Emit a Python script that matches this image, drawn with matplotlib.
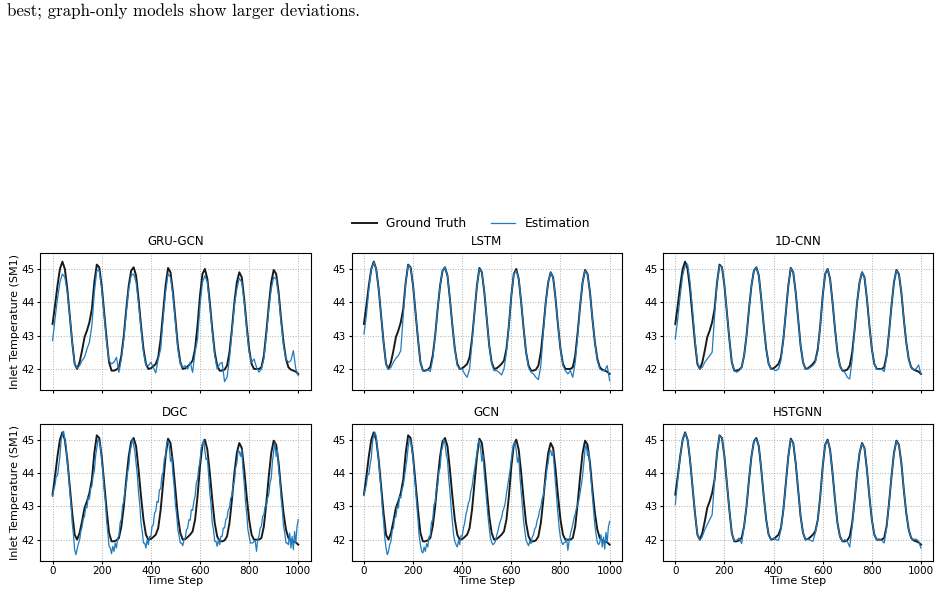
import numpy as np
import matplotlib.pyplot as plt

# time axes
t10 = list(range(0, 1001, 10))
t5 = list(range(0, 1001, 5))

ground_truth = [
    43.35, 43.90, 44.50, 45.00, 45.22, 45.00, 44.40, 43.60, 42.80, 42.15,
    42.00, 42.20, 42.55, 42.95, 43.15, 43.40, 43.80, 44.60, 45.13, 45.05,
    44.50, 43.70, 42.90, 42.20, 41.95, 41.95, 41.98, 42.05, 42.40, 43.00,
    43.80, 44.50, 44.95, 45.05, 44.80, 44.10, 43.30, 42.60, 42.15, 42.00,
    42.02, 42.08, 42.15, 42.35, 42.90, 43.70, 44.50, 45.03, 44.90, 44.30,
    43.50, 42.70, 42.20, 42.00, 42.02, 42.08, 42.15, 42.25, 42.60, 43.30,
    44.20, 44.85, 45.00, 44.70, 44.00, 43.20, 42.50, 42.10, 41.95, 41.95,
    41.98, 42.10, 42.50, 43.20, 44.00, 44.60, 44.90, 44.75, 44.10, 43.30,
    42.60, 42.15, 42.00, 42.00, 42.00, 42.05, 42.40, 43.10, 43.90, 44.60,
    44.97, 44.85, 44.30, 43.50, 42.80, 42.30, 42.05, 41.98, 41.95, 41.92,
    41.85,
]

gru_gcn = [
    42.85, 43.50, 44.10, 44.60, 44.85, 44.75, 44.30, 43.60, 42.80, 42.15,
    42.02, 42.10, 42.25, 42.35, 42.60, 42.80, 43.30, 44.30, 44.95, 44.95,
    44.40, 43.60, 42.80, 42.25, 42.15, 42.20, 42.35, 41.90, 42.30, 42.90,
    43.70, 44.40, 44.80, 44.85, 44.60, 43.95, 43.20, 42.50, 42.10, 42.10,
    42.20, 42.05, 41.88, 42.30, 42.60, 43.50, 44.30, 44.85, 44.75, 44.20,
    43.40, 42.60, 42.15, 42.05, 42.10, 42.00, 42.20, 41.90, 42.50, 42.90,
    43.90, 44.60, 44.80, 44.60, 43.90, 43.10, 42.40, 42.00, 42.15, 42.20,
    41.62, 41.75, 42.30, 43.10, 43.90, 44.40, 44.72, 44.60, 44.00, 43.20,
    42.50, 42.20, 42.30, 42.05, 41.90, 42.00, 42.30, 43.00, 43.80, 44.40,
    44.75, 44.70, 44.20, 43.40, 42.70, 42.30, 42.20, 42.25, 42.55, 42.00,
    41.80,
]

lstm = [
    43.05, 43.60, 44.40, 45.00, 45.20, 45.00, 44.40, 43.60, 42.80, 42.15,
    41.98, 42.05, 42.20, 42.32, 42.40, 42.55, 43.60, 44.60, 45.12, 45.05,
    44.50, 43.70, 42.90, 42.20, 41.95, 41.93, 41.98, 41.92, 42.30, 43.00,
    43.80, 44.50, 44.95, 45.05, 44.80, 44.10, 43.30, 42.60, 42.10, 42.00,
    42.00, 41.85, 41.75, 42.00, 42.80, 43.70, 44.50, 45.00, 44.90, 44.30,
    43.50, 42.70, 42.15, 41.95, 41.95, 41.90, 41.82, 42.00, 42.50, 43.30,
    44.20, 44.85, 44.95, 44.70, 44.00, 43.20, 42.50, 42.05, 41.90, 41.85,
    41.75, 41.68, 42.10, 43.10, 44.00, 44.60, 44.90, 44.75, 44.10, 43.30,
    42.60, 42.10, 41.95, 41.85, 41.95, 41.75, 42.20, 43.00, 43.90, 44.60,
    44.95, 44.85, 44.30, 43.50, 42.80, 42.25, 42.00, 41.95, 41.95, 42.10,
    41.65,
]

cnn_1d = [
    42.90, 43.50, 44.20, 44.80, 45.10, 45.15, 44.60, 43.80, 42.90, 42.20,
    42.00, 42.05, 42.20, 42.30, 42.40, 42.50, 43.60, 44.60, 45.10, 45.05,
    44.50, 43.70, 42.90, 42.20, 41.95, 41.90, 41.95, 42.05, 42.40, 43.00,
    43.80, 44.50, 44.95, 45.05, 44.80, 44.10, 43.30, 42.60, 42.15, 42.00,
    41.98, 41.95, 42.00, 42.25, 42.90, 43.70, 44.50, 45.02, 44.90, 44.30,
    43.50, 42.70, 42.20, 42.00, 42.00, 42.05, 42.10, 42.20, 42.55, 43.30,
    44.20, 44.85, 45.00, 44.70, 44.00, 43.20, 42.50, 42.10, 41.95, 41.90,
    41.75, 41.70, 42.30, 43.20, 44.00, 44.60, 44.90, 44.75, 44.10, 43.30,
    42.60, 42.15, 42.00, 41.98, 42.00, 41.92, 42.35, 43.10, 43.90, 44.60,
    44.95, 44.85, 44.30, 43.50, 42.80, 42.30, 42.05, 41.98, 42.00, 42.12,
    41.85,
]

hstgnn = [
    43.05, 43.80, 44.50, 45.00, 45.20, 45.00, 44.40, 43.60, 42.80, 42.15,
    41.98, 42.10, 42.30, 42.45, 42.60, 42.75, 43.80, 44.60, 45.12, 45.05,
    44.50, 43.70, 42.90, 42.20, 41.97, 41.98, 42.05, 41.88, 42.40, 43.00,
    43.80, 44.50, 44.95, 45.03, 44.80, 44.10, 43.30, 42.60, 42.15, 42.00,
    42.05, 42.00, 41.98, 42.30, 42.90, 43.70, 44.50, 45.00, 44.90, 44.30,
    43.50, 42.70, 42.20, 42.00, 42.02, 41.98, 41.95, 42.20, 42.60, 43.30,
    44.20, 44.85, 44.98, 44.70, 44.00, 43.20, 42.50, 42.08, 41.95, 42.00,
    41.95, 41.78, 42.40, 43.20, 44.00, 44.60, 44.88, 44.75, 44.10, 43.30,
    42.60, 42.15, 42.00, 42.02, 41.98, 41.90, 42.35, 43.10, 43.90, 44.60,
    44.95, 44.85, 44.30, 43.50, 42.80, 42.30, 42.05, 42.00, 42.02, 41.95,
    41.75,
]

dgc = [
    43.30, 43.50, 43.65, 43.90, 43.92, 44.20, 44.50, 45.00, 45.15, 45.25,
    45.00, 44.80, 44.30, 44.00, 43.45, 43.05, 42.50, 42.15, 41.70, 41.55,
    41.72, 41.88, 41.98, 42.25, 42.38, 42.62, 42.70, 42.98, 42.95, 43.28,
    43.22, 43.55, 43.60, 43.92, 44.05, 44.50, 44.75, 45.00, 44.95, 44.80,
    44.35, 44.05, 43.50, 43.15, 42.55, 42.20, 41.80, 41.75, 41.58, 41.80,
    41.65, 41.90, 41.75, 42.05, 42.12, 42.50, 42.62, 43.02, 43.15, 43.52,
    43.62, 44.02, 44.18, 44.62, 44.80, 45.02, 44.85, 44.65, 44.28, 43.95,
    43.40, 43.05, 42.50, 42.25, 41.90, 41.90, 41.75, 42.00, 41.85, 42.10,
    42.08, 42.40, 42.45, 42.80, 42.85, 43.15, 43.12, 43.50, 43.52, 43.92,
    44.02, 44.42, 44.52, 44.95, 44.95, 44.80, 44.35, 44.50, 43.95, 43.60,
    43.05, 42.75, 42.30, 42.10, 41.90, 41.90, 41.82, 42.00, 42.05, 42.30,
    42.35, 42.60, 42.58, 42.90, 42.88, 43.15, 43.30, 43.70, 43.80, 44.15,
    44.35, 44.75, 44.85, 45.00, 44.65, 44.40, 44.45, 43.95, 43.40, 43.05,
    42.50, 42.30, 41.95, 41.95, 41.80, 42.00, 41.85, 42.10, 42.10, 42.35,
    42.35, 42.60, 42.65, 42.90, 42.95, 43.25, 43.30, 43.65, 43.75, 44.15,
    44.30, 44.65, 44.65, 44.50, 44.70, 44.10, 43.70, 43.15, 42.80, 42.30,
    42.10, 41.90, 41.90, 41.90, 41.95, 41.95, 41.65, 42.00, 42.10, 42.35,
    42.40, 42.70, 42.75, 43.00, 43.00, 43.25, 43.35, 43.70, 43.85, 44.35,
    44.65, 44.90, 44.50, 44.70, 44.15, 43.80, 43.25, 42.90, 42.40, 42.20,
    41.90, 41.90, 41.85, 42.20, 41.75, 42.10, 41.70, 42.25, 41.90, 42.40,
    42.60,
]

gcn = [
    43.35, 43.50, 43.65, 43.95, 43.95, 44.25, 44.45, 44.95, 45.12, 45.22,
    45.10, 44.70, 44.35, 43.90, 43.50, 42.95, 42.55, 42.05, 41.75, 41.55,
    41.65, 41.85, 41.95, 42.28, 42.35, 42.65, 42.68, 43.00, 42.95, 43.30,
    43.25, 43.50, 43.62, 43.88, 44.12, 44.42, 44.78, 45.02, 44.98, 44.72,
    44.45, 43.95, 43.55, 43.05, 42.60, 42.10, 41.85, 41.65, 41.60, 41.78,
    41.65, 41.88, 41.78, 42.10, 42.12, 42.52, 42.60, 43.05, 43.12, 43.55,
    43.60, 44.05, 44.15, 44.65, 44.78, 45.00, 44.88, 44.55, 44.40, 43.85,
    43.45, 42.95, 42.55, 42.15, 41.95, 41.85, 41.78, 41.98, 41.85, 42.12,
    42.10, 42.35, 42.50, 42.75, 42.90, 43.10, 43.18, 43.45, 43.58, 43.88,
    44.10, 44.35, 44.60, 44.90, 44.98, 44.72, 44.35, 44.52, 43.95, 43.55,
    43.10, 42.70, 42.35, 42.05, 41.92, 41.85, 41.88, 41.95, 42.12, 42.25,
    42.42, 42.55, 42.65, 42.85, 42.95, 43.10, 43.38, 43.62, 43.88, 44.10,
    44.42, 44.70, 44.88, 44.92, 44.68, 44.32, 44.48, 43.88, 43.45, 43.00,
    42.55, 42.25, 41.98, 41.90, 41.82, 41.95, 41.88, 42.08, 42.15, 42.32,
    42.38, 42.58, 42.68, 42.88, 42.98, 43.22, 43.32, 43.62, 43.78, 44.12,
    44.32, 44.62, 44.68, 44.52, 44.62, 44.12, 43.65, 43.18, 42.75, 42.32,
    42.05, 41.92, 41.85, 41.92, 41.92, 42.02, 41.68, 41.95, 42.15, 42.30,
    42.45, 42.65, 42.78, 42.95, 43.05, 43.20, 43.42, 43.65, 43.92, 44.30,
    44.72, 44.85, 44.52, 44.65, 44.18, 43.75, 43.28, 42.85, 42.42, 42.15,
    41.92, 41.85, 41.92, 42.15, 41.78, 42.08, 41.72, 42.22, 41.92, 42.38,
    42.55,
]

models = ["GRU-GCN", "LSTM", "1D-CNN", "DGC", "GCN", "HSTGNN"]
estimations = [(t10, gru_gcn), (t10, lstm), (t10, cnn_1d),
               (t5, dgc), (t5, gcn), (t10, hstgnn)]

fig, axes = plt.subplots(2, 3, figsize=(9.41, 5.94), dpi=100, sharex=True)
fig.subplots_adjust(left=0.0428, right=0.9918, bottom=0.0561, top=0.5736,
                    wspace=0.152, hspace=0.249)

for ax, name, (tt, est) in zip(axes.flat, models, estimations):
    ax.plot(t10, ground_truth, color='#1a1a1a', lw=1.4, label='Ground Truth')
    ax.plot(tt, est, color='#1f7bbf', lw=0.9, label='Estimation')
    ax.set_title(name, fontsize=8.5, pad=6)
    ax.set_ylim(41.37, 45.47)
    ax.set_xlim(-50, 1050)
    ax.set_xticks([0, 200, 400, 600, 800, 1000])
    ax.set_yticks([42, 43, 44, 45])
    ax.grid(True, linestyle=':', color='#b0b0b0', lw=0.7)
    ax.tick_params(labelsize=7.5, length=2.5, pad=1.5)

for ax in axes[:, 0]:
    ax.set_ylabel('Inlet Temperature (SM1)', fontsize=8, labelpad=1)
for ax in axes[1, :]:
    ax.set_xlabel('Time Step', fontsize=8, labelpad=0)

handles, labels = axes[0, 0].get_legend_handles_labels()
fig.legend(handles, labels, loc='center', bbox_to_anchor=(0.501, 0.6229), ncol=2,
           frameon=False, fontsize=8.8, handlelength=2.0, columnspacing=2.0)

fig.text(0.0074, 0.9714, 'best; graph-only models show larger deviations.',
         fontsize=12.2, family='cmr10', va='baseline', ha='left')

fig.savefig('out.png', dpi=100)
